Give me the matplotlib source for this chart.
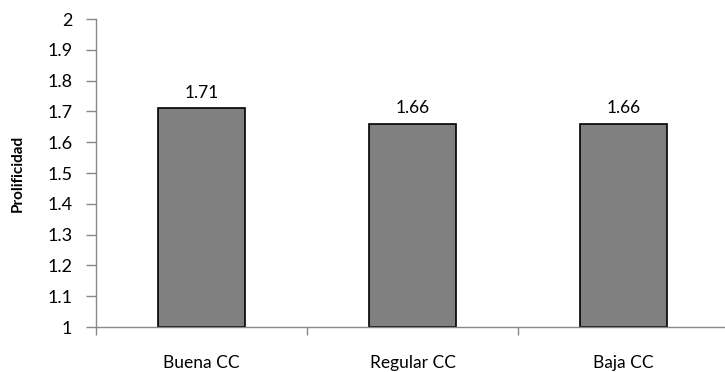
import matplotlib.pyplot as plt

categories = ['Buena CC', 'Regular CC', 'Baja CC']
prolificidad = [1.71, 1.66, 1.66]
yticks = [1, 1.1, 1.2, 1.3, 1.4, 1.5, 1.6, 1.7, 1.8, 1.9, 2]
ytick_labels = ['1', '1.1', '1.2', '1.3', '1.4', '1.5', '1.6', '1.7', '1.8', '1.9', '2']

plt.rcParams['font.family'] = ['Lato', 'DejaVu Sans']

fig = plt.figure(figsize=(7.25, 3.72), dpi=100)
ax = fig.add_axes([96 / 725, 45 / 372, 633 / 725, 308 / 372])

x = range(len(categories))
bars = ax.bar(x, [v - 1 for v in prolificidad], bottom=1, width=0.41,
              color='#808080', edgecolor='black', linewidth=1.2)

for xi, v in zip(x, prolificidad):
    ax.text(xi, v + 0.025, '{:.2f}'.format(v), ha='center', va='bottom', fontsize=12.5)

ax.set_xlim(-0.5, 2.5)
ax.set_ylim(1, 2)
ax.set_yticks(yticks)
ax.set_yticklabels(ytick_labels, fontsize=13)
ax.set_xticks([-0.5, 0.5, 1.5, 2.5])
ax.set_xticklabels([])
ax.set_xticks(list(x), minor=True)
ax.set_xticklabels(categories, minor=True, fontsize=12.5)
ax.tick_params(axis='x', which='minor', length=0, pad=20)
ax.tick_params(axis='x', which='major', length=6, color='#888888', width=1)
ax.tick_params(axis='y', length=7, color='#888888', width=1, pad=10)

for side in ['top', 'right']:
    ax.spines[side].set_visible(False)
for side in ['left', 'bottom']:
    ax.spines[side].set_color('#888888')
    ax.spines[side].set_linewidth(1)

ax.set_ylabel('Prolificidad', fontsize=11, fontweight='bold', labelpad=16)

fig.savefig('out.png', dpi=100)
